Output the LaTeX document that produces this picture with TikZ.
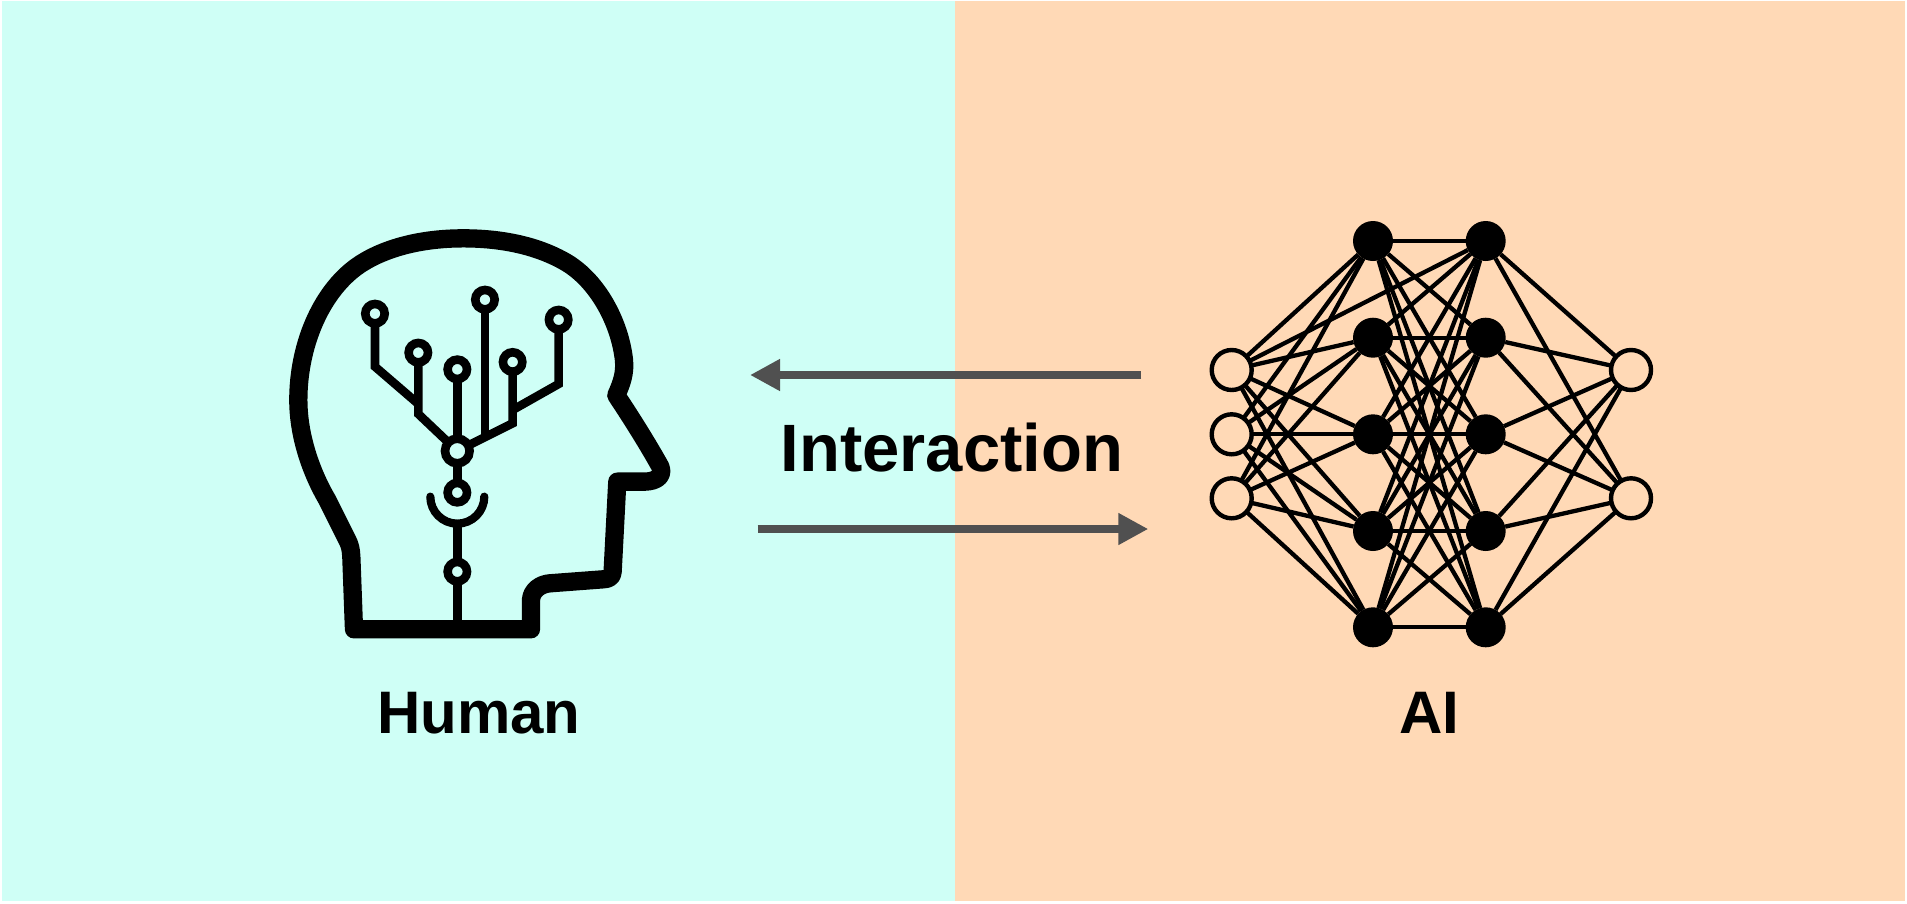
\documentclass[tikz,border=0pt]{standalone}
\usepackage{fontspec}
\setmainfont{Liberation Sans}
\usetikzlibrary{arrows.meta}
\definecolor{humanbg}{HTML}{CFFFF6}
\definecolor{aibg}{HTML}{FFD9B6}
\definecolor{flowgray}{HTML}{505050}
\begin{document}
\begin{tikzpicture}[x=1pt, y=-1pt,
    caption/.style = {anchor=base, inner sep=0pt, font=\bfseries\fontsize{60}{60}\selectfont},
    bigcaption/.style = {caption, font=\bfseries\fontsize{67}{67}\selectfont},
    flow/.style = {-{Triangle[length=30pt,width=30pt]}, line width=8pt, flowgray},
    skull/.style = {line width=18.3pt, line join=round},
    wire/.style = {line width=8.6pt},
    pin/.style = {shape=circle, draw=black, fill=humanbg, line width=8.6pt,
        inner sep=0pt, outer sep=0pt, minimum size=19.4pt},
    hub/.style = {pin, minimum size=24.6pt},
    hollow/.style = {shape=circle, draw=black, fill=aibg, line width=4.4pt,
        inner sep=0pt, outer sep=0pt, minimum size=40pt},
    solid/.style = {shape=circle, fill=black, inner sep=0pt, outer sep=0pt, minimum size=40pt},
    link/.style = {line width=4.3pt}]

  \useasboundingbox (0,0) rectangle (1907,903);
  \fill [humanbg] (2,1) rectangle (955,901);
  \fill [aibg] (955,1) rectangle (1905,901);

  % head, read off a 3x crop
  \begin{scope}[shift={(270,210)}, x=0.3333pt, y=-0.3333pt]
    \draw [skull] (783,1258) -- (783,1170) .. controls (785,1140) and (812,1122) .. (840,1120)
      -- (1000,1108) .. controls (1022,1106) and (1026,1100) .. (1028,1085)
      -- (1042,815) -- (1125,815) .. controls (1160,814) and (1182,798) .. (1171,770)
      .. controls (1135,705) and (1085,625) .. (1039,556)
      .. controls (1055,520) and (1066,490) .. (1062,450)
      .. controls (1050,340) and (985,215) .. (890,158)
      .. controls (800,105) and (690,85) .. (580,85)
      .. controls (440,85) and (330,120) .. (260,170)
      .. controls (150,250) and (85,410) .. (85,570)
      .. controls (85,680) and (125,790) .. (172,870)
      -- (232,990) .. controls (240,1005) and (243,1020) .. (244,1040)
      -- (252,1258) -- cycle;

    \node [pin] (tipA) at (315,311) {};
    \node [pin] (tipB) at (445,428) {};
    \node [pin] (tipC) at (562,478) {};
    \node [pin] (tipD) at (645,269) {};
    \node [pin] (tipE) at (728,456) {};
    \node [pin] (tipF) at (866,329) {};
    \node [hub] (root) at (562,723) {};
    \node [pin] (stemA) at (562,848) {};
    \node [pin] (stemB) at (562,1085) {};

    \coordinate (kneeA) at (315,470);
    \coordinate (joinA) at (445,582);
    \coordinate (kneeB) at (445,612);
    \coordinate (kneeD) at (645,680);
    \coordinate (kneeE) at (728,640);
    \coordinate (kneeF) at (866,522);
    \coordinate (joinF) at (728,600);
    \coordinate (cupBase) at (562,945);
    \coordinate (neck) at (562,1258);

    \draw [wire] (tipA) -- (kneeA) -- (joinA);
    \draw [wire] (tipB) -- (kneeB) -- (root);
    \draw [wire] (tipC) -- (root);
    \draw [wire] (tipD) -- (kneeD);
    \draw [wire] (tipE) -- (kneeE) -- (root);
    \draw [wire] (tipF) -- (kneeF) -- (joinF);
    \draw [wire] (root) -- (stemA);
    \draw [wire] (cupBase) -- (stemB);
    \draw [wire] (stemB) -- (neck);
    \draw [line width=8.2pt, line cap=round] (481,860) arc [start angle=180, end angle=0, radius=81];
  \end{scope}

  % network
  \foreach \i/\y in {1/370,2/434.3,3/498.3}
    \node [hollow] (in\i) at (1231.7,\y) {};
  \foreach \i/\y in {1/241,2/337.7,3/434.3,4/531,5/627.3} {
    \node [solid] (left\i) at (1373,\y) {};
    \node [solid] (right\i) at (1485.7,\y) {};
  }
  \foreach \i/\y in {1/370,2/498.3}
    \node [hollow] (out\i) at (1631,\y) {};

  \foreach \i in {1,...,5} {
    \foreach \j in {1,2,3}
      \draw [link] (in\j) -- (left\i);
    \foreach \j in {1,...,5}
      \draw [link] (left\i) -- (right\j);
    \foreach \j in {1,2}
      \draw [link] (right\i) -- (out\j);
  }
  \draw [link] (in1) -- (right1);

  % arrows and texts
  \coordinate (backStart) at (1141,375);
  \coordinate (backEnd) at (750,375);
  \coordinate (forthStart) at (757.7,529);
  \coordinate (forthEnd) at (1148.3,529);
  \draw [flow] (backStart) -- (backEnd);
  \draw [flow] (forthStart) -- (forthEnd);

  \node [bigcaption] (interaction) at (952,471.7) {Interaction};
  \node [caption] (human) at (478.7,733) {Human};
  \node [caption] (ai) at (1429,733) {AI};
\end{tikzpicture}
\end{document}
